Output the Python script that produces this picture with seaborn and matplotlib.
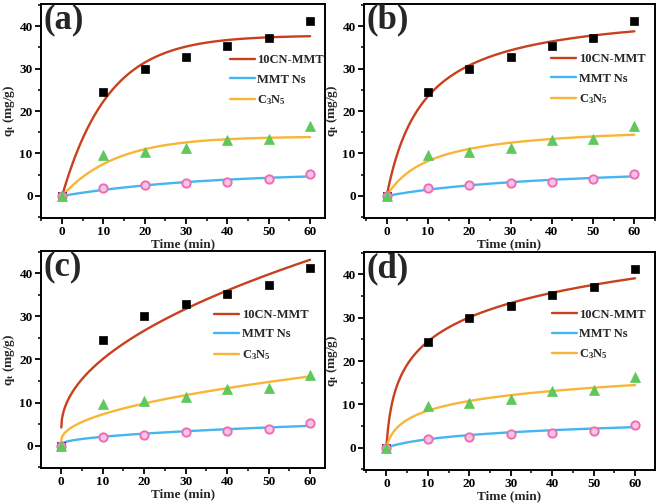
import numpy as np
import pandas as pd
import matplotlib
matplotlib.use('Agg')
import matplotlib.pyplot as plt
from matplotlib.ticker import MultipleLocator
import seaborn as sns

time = [0, 10, 20, 30, 40, 50, 60]
q_cn_mmt = [0, 24.5, 30.0, 32.8, 35.3, 37.2, 41.2]
q_mmt = [0, 1.9, 2.5, 3.1, 3.3, 3.9, 5.2]
q_c3n5 = [0, 9.6, 10.4, 11.2, 13.1, 13.3, 16.4]

samples = ['10CN-MMT', 'MMT Ns', 'C$_{3}$N$_{5}$']
panel_tags = ['(a)', '(b)', '(c)', '(d)']

# fitted kinetic parameters, one pair per sample (estimated from the curves)
pfo_qe = [37.8, 5.5, 14.0]
pfo_k1 = [0.089, 0.030, 0.077]
pso_qe = [44.6, 8.0, 17.0]
pso_h = [0.111, 0.0226, 0.0935]
ipd_kid = [5.03, 0.555, 1.92]
ipd_c = [4.2, 0.3, 1.2]
elov_b = [8.37, 2.0, 3.45]
elov_a = [1.77, 0.16, 1.08]

line_colors = ['#c8401e', '#45b5f0', '#f8b536']

sns.set_theme(style='ticks')
plt.rcParams['font.family'] = ['Liberation Serif', 'DejaVu Serif']
plt.rcParams['font.weight'] = 'bold'
plt.rcParams['axes.labelweight'] = 'bold'
plt.rcParams['mathtext.fontset'] = 'custom'
plt.rcParams['mathtext.rm'] = 'Liberation Serif:bold'
plt.rcParams['mathtext.it'] = 'Liberation Serif:bold'
plt.rcParams['mathtext.default'] = 'rm'


def pfo(t, i):
    return pfo_qe[i] * (1 - np.exp(-pfo_k1[i] * t))


def pso(t, i):
    return pso_qe[i] * pso_h[i] * t / (1 + pso_h[i] * t)


def ipd(t, i):
    return ipd_kid[i] * np.sqrt(t) + ipd_c[i]


def elovich(t, i):
    return elov_b[i] * np.log(1 + elov_a[i] * t)


models = [pfo, pso, ipd, elovich]

df_pts = pd.DataFrame({'t': time * 3,
                       'q': q_cn_mmt + q_mmt + q_c3n5,
                       'sample': ['cn'] * 7 + ['mmt'] * 7 + ['c3n5'] * 7})

fig = plt.figure(figsize=(6.61, 5.03), dpi=100)
positions = [[0.062, 0.5666, 0.4297, 0.4254],
             [0.5507, 0.5666, 0.4402, 0.4254],
             [0.062, 0.0696, 0.4297, 0.4314],
             [0.5507, 0.0656, 0.4402, 0.4334]]
xlims = [(-5.1, 63.6), (-5.5, 65.0), (-4.9, 63.6), (-5.4, 64.8)]
legend_anchor = [(0.665, 0.766), (0.643, 0.77), (0.61, 0.733), (0.646, 0.74)]

t_fit = np.linspace(0, 60, 400)

for p in range(4):
    ax = fig.add_axes(positions[p])
    for i in range(3):
        sns.lineplot(x=t_fit, y=models[p](t_fit, i), color=line_colors[i],
                     lw=1.7, label=samples[i], ax=ax)

    # data points
    d = df_pts[df_pts['sample'] == 'cn']
    sns.scatterplot(data=d, x='t', y='q', marker='s', color='black', s=40,
                    edgecolor='black', linewidth=0.5, ax=ax, zorder=3, legend=False)
    d = df_pts[df_pts['sample'] == 'mmt']
    sns.scatterplot(data=d, x='t', y='q', marker='o', color='#f9c4e4', s=36,
                    edgecolor='#ec6fb5', linewidth=1.4, ax=ax, zorder=3, legend=False)
    d = df_pts[df_pts['sample'] == 'c3n5']
    sns.scatterplot(data=d, x='t', y='q', marker='^', color='#5ec85a', s=52,
                    edgecolor='#5ec85a', linewidth=0.5, ax=ax, zorder=3, legend=False)

    ax.set_xlim(*xlims[p])
    ax.set_ylim(-5.2, 45.2)
    ax.xaxis.set_major_locator(MultipleLocator(10))
    ax.xaxis.set_minor_locator(MultipleLocator(5))
    ax.yaxis.set_major_locator(MultipleLocator(10))
    ax.yaxis.set_minor_locator(MultipleLocator(5))
    ax.tick_params(which='major', direction='out', length=4, width=1.3,
                   labelsize=9.5, pad=2, color='black', labelcolor='black')
    ax.tick_params(which='minor', direction='out', length=2.5, width=1.1,
                   color='black')
    for s in ax.spines.values():
        s.set_linewidth(1.4)
        s.set_color('black')
    ax.set_xlabel('Time (min)', fontsize=9.5, labelpad=0)
    ax.set_ylabel('q$_{t}$ (mg/g)', fontsize=9.5, labelpad=2)

    ax.text(0.008, 0.925, panel_tags[p], transform=ax.transAxes, fontsize=25,
            fontweight='bold', ha='left', va='center')

    ax.legend(loc='upper left', bbox_to_anchor=legend_anchor[p], frameon=False,
              fontsize=9, handlelength=2.0, handletextpad=0.2,
              labelspacing=0.6, borderaxespad=0, borderpad=0)

fig.savefig('out.png', dpi=100, facecolor='white')
